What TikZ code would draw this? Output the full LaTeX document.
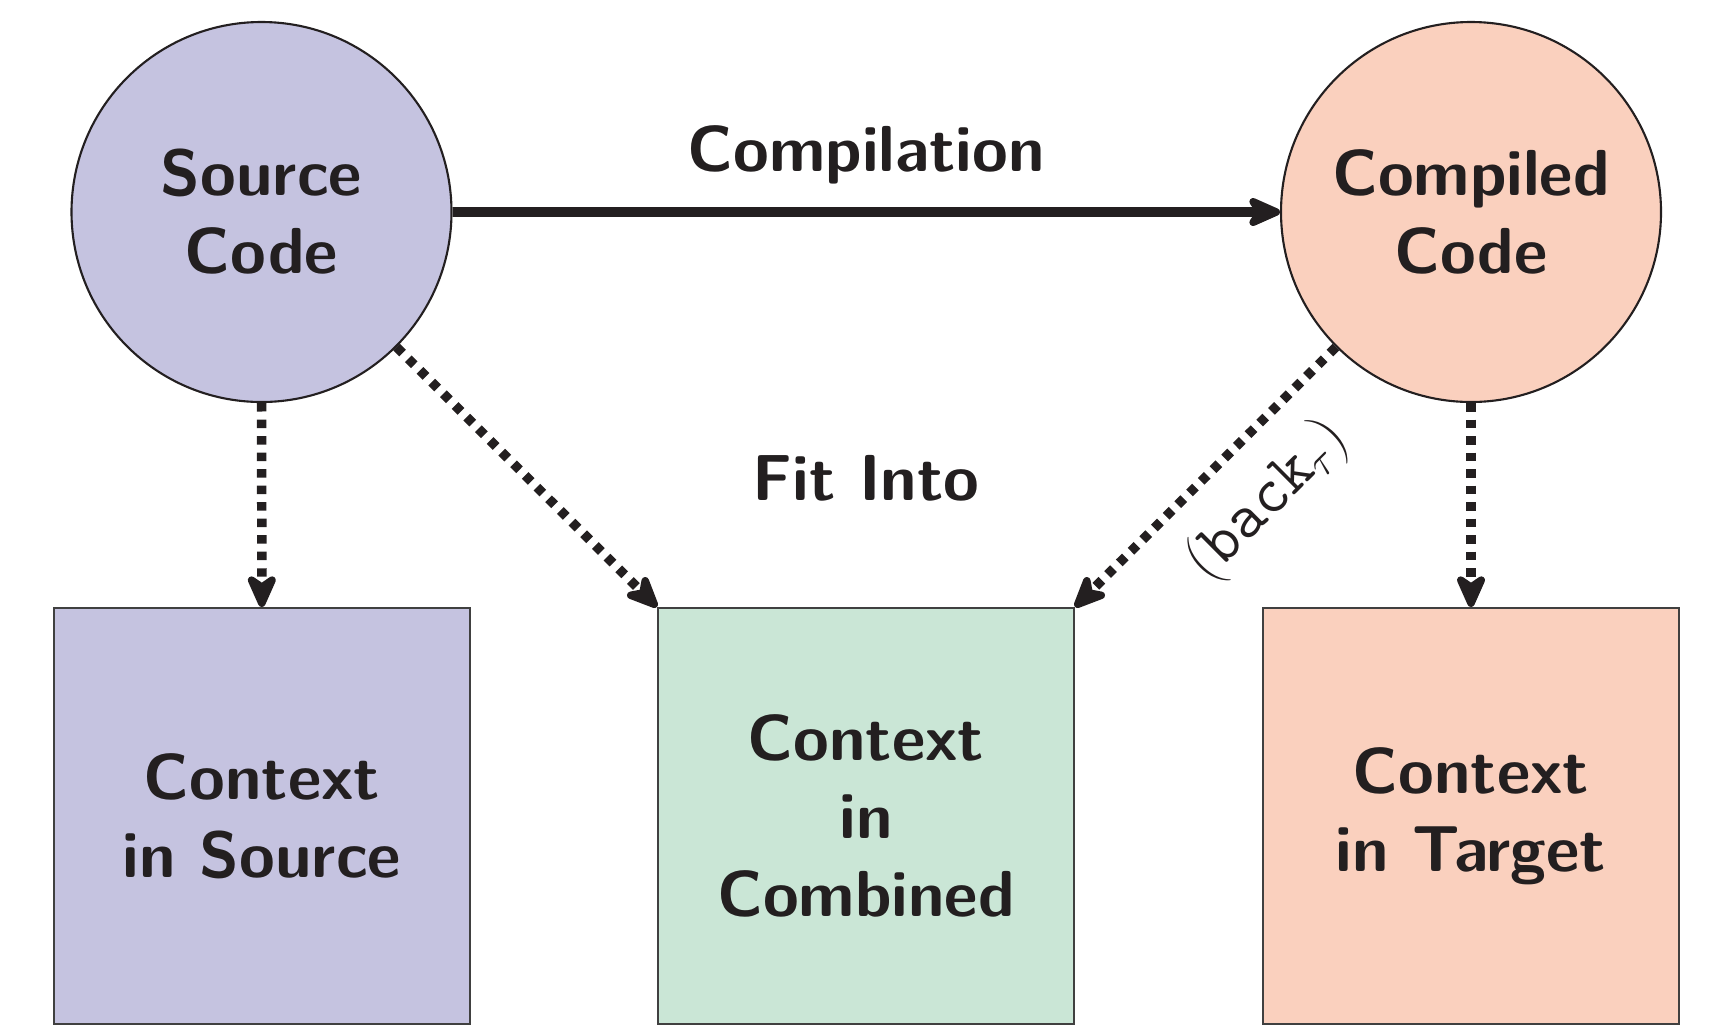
\documentclass[tikz,border=0pt]{standalone}
\usepackage{amsmath}
\usepackage{tikz}
\usetikzlibrary{arrows.meta}
\definecolor{srcpurple}{HTML}{C5C3E0}
\definecolor{tgtpeach}{HTML}{FAD0BE}
\definecolor{cmbgreen}{HTML}{CAE6D6}
\definecolor{inkdark}{HTML}{231F20}

\begin{document}
\begin{tikzpicture}[
    every node/.style={font=\sffamily\bfseries\fontsize{18.5}{22.2}\selectfont, text=inkdark, align=center},
    lang/.style={circle, draw=inkdark, line width=0.6pt, minimum size=3.8cm, inner sep=0pt},
    ctx/.style={rectangle, draw=black!75, line width=0.6pt, minimum size=4.16cm, inner sep=0pt},
    arrowtip/.style={-{Stealth[round,length=12pt,width=10.5pt,inset=3.5pt]}},
    flow/.style={arrowtip, inkdark, line width=2.7pt, dash pattern=on 2.4pt off 2.3pt},
  ]
  \useasboundingbox (0,0) rectangle (17.21,-10.30);
  \node[lang, fill=srcpurple] (src) at (2.615,-2.12) {Source\\Code};
  \node[lang, fill=tgtpeach] (cmp) at (14.71,-2.12) {Compiled\\Code};
  \node[ctx, fill=srcpurple] (ctxsrc) at (2.62,-8.16) {Context\\in Source};
  \node[ctx, fill=cmbgreen] (ctxcmb) at (8.66,-8.16) {Context\\in\\Combined};
  \node[ctx, fill=tgtpeach] (ctxtgt) at (14.71,-8.16) {Context\\in Target};
  \node (fit) at (8.66,-4.78) {Fit Into};
  \draw[arrowtip, inkdark, line width=3pt] (src) -- (cmp) node[midway, above=3pt] {Compilation};
  \draw[flow] (src) -- (ctxsrc);
  \draw[flow] (src.-45) -- (ctxcmb.north west);
  \draw[flow] (cmp.-135) -- (ctxcmb.north east)
    node[pos=0.425, sloped, below=4pt, font=\ttfamily\fontsize{18.5}{22.2}\selectfont] {$\left(\text{back}_\tau\right)$};
  \draw[flow] (cmp) -- (ctxtgt);
\end{tikzpicture}
\end{document}
